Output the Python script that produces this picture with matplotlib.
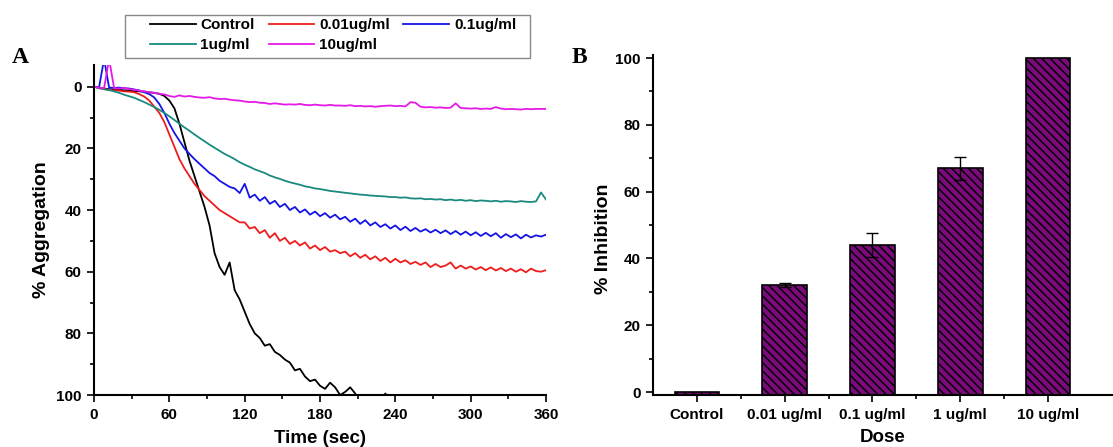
import numpy as np
import matplotlib
matplotlib.use("Agg")
import matplotlib.pyplot as plt
from matplotlib.patches import Rectangle
from matplotlib.ticker import MultipleLocator, FixedLocator

plt.rcParams['font.family'] = ['Liberation Sans', 'DejaVu Sans']
plt.rcParams['font.weight'] = 'bold'
plt.rcParams['hatch.linewidth'] = 1.1

# panel A: aggregation traces, one value every 4 s from 0 to 360 s
time_sec = np.arange(0, 361, 4)

control = [0, 0.3, 0.6, 0.8, 1.0, 1.0, 1.2, 1.3, 1.4, 1.5,
           1.6, 1.8, 2.0, 2.3, 3.0, 4.5, 7, 12, 18, 24,
           29, 34, 39, 45, 54, 58.5, 61, 57, 66, 69,
           73, 77, 80, 81.5, 84, 83.5, 86, 87, 88.5, 89.5,
           92, 91.5, 94, 95.5, 95, 97, 98, 96, 97.5, 100,
           99, 97.5, 99.5, 102, 102, 102, 102, 102, 99.5, 102] + [np.nan] * 31

dose_001 = [0, 0.5, 0.8, 1.0, 1.2, 1.3, 1.5, 1.6, 1.8, 2.4,
            3.2, 4.5, 6.5, 8.5, 11.5, 15.5, 19.5, 23.5, 26.5, 29,
            31.5, 33.5, 35.5, 37, 38.5, 40, 41, 42, 43, 44,
            44, 46, 45.5, 47.5, 46.5, 49, 47.5, 50, 49, 51,
            50, 51.5, 50.5, 52.5, 51.5, 53, 52, 53.5, 53, 54,
            53.5, 55, 54, 55.5, 54.5, 56, 55, 56.5, 55.5, 57,
            55.8, 57, 56.3, 57.5, 56.8, 57.8, 57, 58.5, 57.5, 58.5,
            58, 57, 59, 58, 59, 58.3, 59.3, 58.5, 59.5, 58.6,
            59.6, 58.8, 59.8, 59, 60, 59.2, 60.2, 59, 59.8, 60,
            59.5]

dose_01 = [0, 0.2, -9, 0.3, 0.4, 0.3, 0.5, 0.6, 0.9, 1.2,
           1.8, 2.4, 3.5, 5.6, 8.5, 12, 15, 17.5, 20, 21.8,
           23.5, 25, 26.5, 28, 29, 30.5, 31.5, 32.5, 33, 34.5,
           31.5, 36, 35, 37, 35.8, 38, 37, 39, 38, 40,
           39, 40.8, 39.8, 41.5, 40.5, 42, 41, 42.5, 41.5, 43,
           42.2, 43.8, 42.8, 44.5, 43.3, 45, 44, 45.5, 44.6, 46,
           45, 46.5, 45.4, 46.8, 45.8, 47, 46.2, 47.3, 46.4, 47.5,
           46.6, 47.8, 46.8, 48, 47, 48.2, 47.2, 48.4, 47.4, 48.5,
           47.5, 49, 47.8, 48.8, 47.9, 49.2, 48, 48.9, 48.2, 48.6,
           48]

dose_1 = [0, 0.4, 0.8, 1.1, 1.5, 2.0, 2.6, 3.1, 3.6, 4.3,
          5.0, 5.8, 6.6, 7.5, 8.5, 9.6, 10.8, 12, 13.2, 14.3,
          15.5, 16.6, 17.7, 18.8, 19.8, 20.8, 21.8, 22.6, 23.5, 24.5,
          25.3, 26, 26.8, 27.4, 28, 28.8, 29.4, 29.9, 30.5, 31,
          31.4, 31.8, 32.3, 32.6, 33, 33.2, 33.5, 33.8, 34, 34.2,
          34.4, 34.6, 34.8, 35, 35.1, 35.3, 35.4, 35.5, 35.6, 35.8,
          35.8, 36, 35.9, 36.2, 36.3, 36.2, 36.5, 36.4, 36.6, 36.5,
          36.8, 36.6, 36.9, 36.7, 37, 36.8, 37.1, 36.9, 37, 37.2,
          37, 37.3, 37.1, 37.2, 37.4, 37.1, 37.3, 37.4, 37.2, 34.3,
          36.6]

dose_10 = [0, 0.3, 0.5, -9, 0.5, 0.6, 0.4, 0.8, 1.0, 1.3,
           1.5, 1.8, 2.0, 2.3, 2.5, 3.0, 3.3, 2.8, 3.2, 3.0,
           3.3, 3.5, 3.6, 3.4, 3.8, 4.0, 3.9, 4.2, 4.4, 4.5,
           4.8, 5.0, 4.9, 5.2, 5.3, 5.6, 5.4, 5.6, 5.8, 5.7,
           5.8, 5.6, 5.9, 6.0, 5.8, 6.0, 6.1, 5.9, 6.1, 6.1,
           6.2, 6.0, 6.3, 6.2, 6.4, 6.3, 6.5, 6.3, 6.2, 6.1,
           6.3, 6.2, 6.4, 5.0, 5.2, 6.5, 6.7, 6.6, 6.8, 6.7,
           6.9, 6.8, 5.4, 6.9, 7.0, 7.1, 7.0, 7.2, 7.1, 7.2,
           6.6, 7.1, 7.3, 7.2, 7.3, 7.4, 7.2, 7.3, 7.2, 7.2,
           7.2]

series_labels = ['Control', '0.01ug/ml', '0.1ug/ml', '1ug/ml', '10ug/ml']
series_colors = ['black', '#ee1c1c', '#1414e6', '#1a8a80', '#e619e6']

# panel B: inhibition per dose
doses = ['Control', '0.01 ug/ml', '0.1 ug/ml', '1 ug/ml', '10 ug/ml']
inhibition = [0, 32, 44, 67, 100]
inhibition_err = [0, 0.5, 3.5, 3.5, 0]

fig = plt.figure(figsize=(11.13, 4.47), dpi=100)

axA = fig.add_axes([0.0845, 0.1163, 0.4061, 0.738])
lines = []
for vals, lab, col in zip([control, dose_001, dose_01, dose_1, dose_10],
                          series_labels, series_colors):
    ln, = axA.plot(time_sec, vals, color=col, lw=1.3, label=lab)
    lines.append(ln)
axA.set_xlim(0, 360)
axA.set_ylim(100, -7)
axA.xaxis.set_major_locator(MultipleLocator(60))
axA.xaxis.set_minor_locator(MultipleLocator(30))
axA.yaxis.set_major_locator(FixedLocator([0, 20, 40, 60, 80, 100]))
axA.yaxis.set_minor_locator(FixedLocator([10, 30, 50, 70, 90]))
axA.set_xlabel('Time (sec)', fontsize=13.5, fontweight='bold')
axA.set_ylabel('% Aggregation', fontsize=14, fontweight='bold')
axA.xaxis.set_label_coords(0.5, -0.105)
axA.yaxis.set_label_coords(-0.097, 0.5)

axB = fig.add_axes([0.5867, 0.1163, 0.4133, 0.7606])
y_floor = -0.9
pos = np.arange(1, len(doses) + 1)
axB.bar(pos, np.array(inhibition) - y_floor, bottom=y_floor, width=0.51,
        color='#7d0a7d', edgecolor='black', linewidth=1.2, hatch='\\' * 4,
        zorder=2)
axB.errorbar(pos[1:4], inhibition[1:4], yerr=inhibition_err[1:4], fmt='none',
             ecolor='black', elinewidth=1, capsize=4, capthick=1, zorder=3)
axB.set_xlim(0.5, 5.74)
axB.set_ylim(y_floor, 100.9)
axB.set_xticks(pos)
axB.set_xticklabels(doses)
axB.xaxis.set_minor_locator(FixedLocator(pos[:-1] + 0.5))
axB.yaxis.set_major_locator(FixedLocator([0, 20, 40, 60, 80, 100]))
axB.yaxis.set_minor_locator(FixedLocator([10, 30, 50, 70, 90]))
axB.set_xlabel('Dose', fontsize=13.5, fontweight='bold')
axB.set_ylabel('% Inhibition', fontsize=14, fontweight='bold')
axB.xaxis.set_label_coords(0.5, -0.1)
axB.yaxis.set_label_coords(-0.089, 0.46)

for ax in (axA, axB):
    for s in ('top', 'right'):
        ax.spines[s].set_visible(False)
    for s in ('left', 'bottom'):
        ax.spines[s].set_linewidth(1.5)
    ax.tick_params(which='major', direction='out', length=5, width=1.2,
                   labelsize=11, pad=4)
    ax.tick_params(which='minor', direction='out', length=3, width=1.2)
    for lbl in ax.get_xticklabels() + ax.get_yticklabels():
        lbl.set_fontweight('bold')

fig.text(0.011, 0.872, 'A', fontsize=17, fontweight='bold',
         family=['Liberation Serif', 'DejaVu Serif'], va='center')
fig.text(0.514, 0.872, 'B', fontsize=17, fontweight='bold',
         family=['Liberation Serif', 'DejaVu Serif'], va='center')

# legend fills columns first, so order handles to get the reference rows
order = [0, 3, 1, 4, 2]
leg = fig.legend([lines[i] for i in order], [series_labels[i] for i in order],
                 ncol=3, loc='upper left', bbox_to_anchor=(0.1348, 0.9597),
                 borderaxespad=0, frameon=False, borderpad=0,
                 prop={'weight': 'bold', 'size': 11}, handlelength=3.0,
                 handletextpad=0.3, columnspacing=0.9, labelspacing=0.4)
fig.add_artist(Rectangle((0.1123, 0.8702), 0.3639, 0.0962,
                         transform=fig.transFigure, fill=False,
                         edgecolor='#888888', linewidth=1.0))

fig.savefig('out.png', dpi=100)
